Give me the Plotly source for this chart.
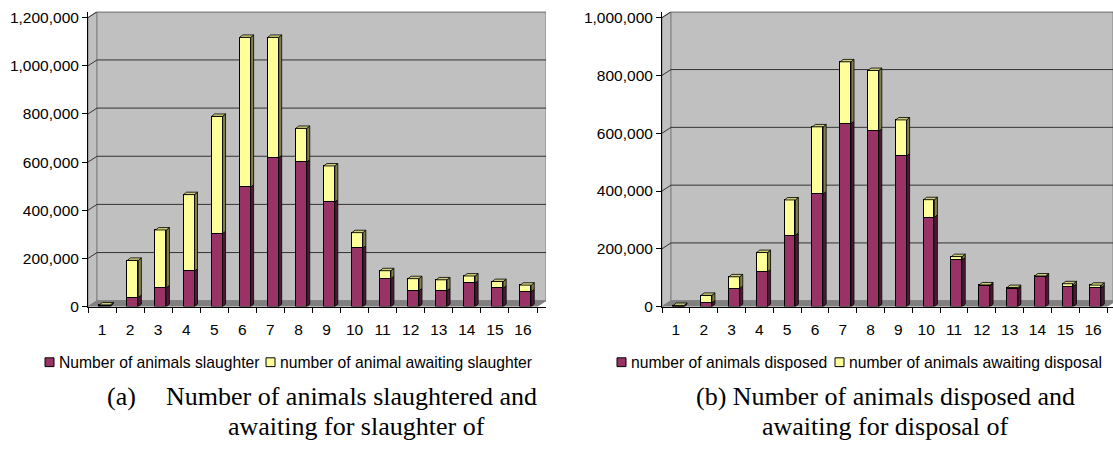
import plotly.graph_objects as go

# ---- data -------------------------------------------------------------
categories = list(range(1, 17))
tick_labels = [str(c) for c in categories]

slaughtered = [2000, 38000, 78000, 147000, 303000, 496000, 618000, 600000,
               434000, 243000, 116000, 66000, 66000, 97000, 76000, 62000]
awaiting_slaughter = [5000, 154000, 240000, 318000, 487000, 622000, 500000, 140000,
                      150000, 64000, 33000, 50000, 45000, 30000, 28000, 27000]

disposed = [1000, 13000, 63000, 120000, 246000, 390000, 633000, 607000,
            521000, 309000, 162000, 72000, 61000, 104000, 70000, 65000]
awaiting_disposal = [3000, 26000, 40000, 67000, 123000, 232000, 214000, 210000,
                     125000, 61000, 11000, 3000, 5000, 2000, 9000, 9000]

left_yticks = [0, 200000, 400000, 600000, 800000, 1000000, 1200000]
right_yticks = [0, 200000, 400000, 600000, 800000, 1000000]

left_series_names = ["Number of animals slaughter", "number of animal awaiting slaughter"]
right_series_names = ["number of animals disposed", "number of animals awaiting disposal"]

# ---- styling ----------------------------------------------------------
W, H = 1113, 461
PURPLE, PURPLE_SIDE = "#993366", "#4D1A33"
YELLOW, YELLOW_SIDE, YELLOW_TOP = "#FFFF99", "#80804D", "#CCCC7A"
WALL, FLOOR, EDGE, GRID = "#C0C0C0", "#808080", "#808080", "#333333"
SANS = "Liberation Sans, Arial, sans-serif"
SERIF = "Liberation Serif, Times New Roman, serif"
TICK_FONT = dict(family=SANS, size=15.5, color="black")

panels = [
    dict(xa="x", ya="y", front_x=(88, 537), zero_y=311, top_tick_y=15,
         yticks=left_yticks, lower=slaughtered, upper=awaiting_slaughter,
         names=left_series_names),
    dict(xa="x2", ya="y2", front_x=(662, 1107), zero_y=311, top_tick_y=15,
         yticks=right_yticks, lower=disposed, upper=awaiting_disposal,
         names=right_series_names),
]

WALL_DX_PX, WALL_DY_PX = 9, 6      # depth of the floor / side wall
BAR_DX_PX, BAR_DY_PX = 3, 2.5      # depth of each column
BAR_SHIFT, BAR_WIDTH = 0.1, 0.39   # column placement within a category

fig = go.Figure()
shapes = []
layout_axes = {}


def side_polys(xs, bottoms, tops, dx, dy, half):
    px, py = [], []
    for x, b, t in zip(xs, bottoms, tops):
        xr = x + half
        px += [xr, xr + dx, xr + dx, xr, xr, None]
        py += [b, b + dy, t + dy, t, b, None]
    return px, py


def top_polys(xs, tops, dx, dy, half):
    px, py = [], []
    for x, t in zip(xs, tops):
        xl, xr = x - half, x + half
        px += [xl, xr, xr + dx, xl + dx, xl, None]
        py += [t, t, t + dy, t + dy, t, None]
    return px, py


for p in panels:
    fx0, fx1 = p["front_x"]
    ymax = p["yticks"][-1]
    ppc = (fx1 - fx0) / len(categories)
    ppv = (p["zero_y"] - p["top_tick_y"]) / ymax
    wdx, wdy = WALL_DX_PX / ppc, WALL_DY_PX / ppv
    bdx, bdy = BAR_DX_PX / ppc, BAR_DY_PX / ppv
    xmax_px = min(fx1 + WALL_DX_PX, W)
    x_lo, x_hi = categories[0] - 0.5, categories[-1] + 0.5
    xmax = x_hi + (xmax_px - fx1) / ppc
    ytop = ymax + wdy
    top_px = p["zero_y"] - ytop * ppv

    xs = [c + BAR_SHIFT for c in categories]
    totals = [a + b for a, b in zip(p["lower"], p["upper"])]
    half = BAR_WIDTH / 2

    # front faces of the stacked columns
    fig.add_trace(go.Bar(x=xs, y=p["lower"], width=BAR_WIDTH, name=p["names"][0],
                         marker=dict(color=PURPLE, line=dict(color="black", width=1)),
                         xaxis=p["xa"], yaxis=p["ya"], showlegend=False))
    fig.add_trace(go.Bar(x=xs, y=p["upper"], width=BAR_WIDTH, name=p["names"][1],
                         marker=dict(color=YELLOW, line=dict(color="black", width=1)),
                         xaxis=p["xa"], yaxis=p["ya"], showlegend=False))
    # right-hand side faces
    sx, sy = side_polys(xs, [0] * len(xs), p["lower"], bdx, bdy, half)
    fig.add_trace(go.Scatter(x=sx, y=sy, mode="lines", fill="toself", fillcolor=PURPLE_SIDE,
                             line=dict(color="black", width=0.8), hoverinfo="skip",
                             xaxis=p["xa"], yaxis=p["ya"], showlegend=False))
    sx, sy = side_polys(xs, p["lower"], totals, bdx, bdy, half)
    fig.add_trace(go.Scatter(x=sx, y=sy, mode="lines", fill="toself", fillcolor=YELLOW_SIDE,
                             line=dict(color="black", width=0.8), hoverinfo="skip",
                             xaxis=p["xa"], yaxis=p["ya"], showlegend=False))
    # top faces
    tx, ty = top_polys(xs, totals, bdx, bdy, half)
    fig.add_trace(go.Scatter(x=tx, y=ty, mode="lines", fill="toself", fillcolor=YELLOW_TOP,
                             line=dict(color="black", width=0.8), hoverinfo="skip",
                             xaxis=p["xa"], yaxis=p["ya"], showlegend=False))

    # side wall, back wall, floor and gridlines
    ref = dict(xref=p["xa"], yref=p["ya"], layer="below")
    shapes.append(dict(type="path", **ref,
                       path=f"M {x_lo},0 L {x_lo + wdx},{wdy} L {x_lo + wdx},{ytop} L {x_lo},{ymax} Z",
                       fillcolor=WALL, line=dict(color=EDGE, width=1)))
    shapes.append(dict(type="rect", **ref, x0=x_lo + wdx, x1=xmax, y0=wdy, y1=ytop,
                       fillcolor=WALL, line=dict(color=EDGE, width=1)))
    shapes.append(dict(type="path", **ref,
                       path=f"M {x_lo},0 L {x_hi},0 L {x_hi + wdx},{wdy} L {x_lo + wdx},{wdy} Z",
                       fillcolor=FLOOR, line=dict(color=EDGE, width=1)))
    for v in p["yticks"][1:]:
        shapes.append(dict(type="line", **ref, x0=x_lo, y0=v, x1=x_lo + wdx, y1=v + wdy,
                           line=dict(color=GRID, width=1)))
        shapes.append(dict(type="line", **ref, x0=x_lo + wdx, y0=v + wdy, x1=xmax, y1=v + wdy,
                           line=dict(color=GRID, width=1)))

    xkey = "xaxis" if p["xa"] == "x" else "xaxis2"
    ykey = "yaxis" if p["ya"] == "y" else "yaxis2"
    layout_axes[xkey] = dict(
        domain=[fx0 / W, xmax_px / W], range=[x_lo, xmax], anchor=p["ya"],
        tickmode="array", tickvals=categories, ticktext=tick_labels,
        ticks="outside", ticklen=9, tickcolor="rgba(0,0,0,0)", tickfont=TICK_FONT,
        showgrid=False, zeroline=False, showline=True, linecolor="black", linewidth=1,
        minor=dict(tickmode="array", tickvals=[c - 0.5 for c in categories] + [x_hi],
                   ticks="outside", ticklen=5, tickcolor="black", showgrid=False),
        fixedrange=True)
    layout_axes[ykey] = dict(
        domain=[1 - p["zero_y"] / H, 1 - top_px / H], range=[0, ytop], anchor=p["xa"],
        tickmode="array", tickvals=p["yticks"], tickformat=",",
        ticks="outside", ticklen=5, tickcolor="black", tickfont=TICK_FONT,
        showgrid=False, zeroline=False, showline=True, linecolor="black", linewidth=1,
        fixedrange=True)

# ---- legends (swatch + label rows beneath each chart) ----------------
annotations = []
LEG_FONT = dict(family=SANS, size=15.7, color="black")
legend_rows = [
    (45, 368, left_series_names, 266),
    (617, 368, right_series_names, 835),
]
for sw_x, y_px, names, sw2_x in legend_rows:
    for sx0, color, label in [(sw_x, PURPLE, names[0]), (sw2_x, YELLOW, names[1])]:
        shapes.append(dict(type="rect", xref="paper", yref="paper",
                           x0=sx0 / W, x1=(sx0 + 9) / W,
                           y0=1 - (y_px + 4.5) / H, y1=1 - (y_px - 4.5) / H,
                           fillcolor=color, line=dict(color="black", width=1)))
        annotations.append(dict(text=label, xref="paper", yref="paper",
                                x=(sx0 + 12) / W, y=1 - y_px / H, xanchor="left",
                                yanchor="middle", showarrow=False, font=LEG_FONT))

# ---- captions --------------------------------------------------------
CAP_FONT = dict(family=SERIF, size=26, color="black")
captions = [
    ("(a)", 105, 403, "left"),
    ("Number of animals slaughtered and", 351, 403, "center"),
    ("awaiting for slaughter of", 356, 434, "center"),
    ("(b) Number of animals disposed and", 694, 403, "left"),
    ("awaiting for disposal of", 885, 434, "center"),
]
for text, x_px, y_px, anchor in captions:
    annotations.append(dict(text=text, xref="paper", yref="paper", x=x_px / W,
                            y=1 - y_px / H, xanchor=anchor, yanchor="middle",
                            showarrow=False, font=CAP_FONT))

fig.update_layout(
    width=W, height=H, margin=dict(l=0, r=0, t=0, b=0),
    paper_bgcolor="white", plot_bgcolor="white",
    barmode="stack", bargap=0, showlegend=False,
    shapes=shapes, annotations=annotations,
    **layout_axes,
)

fig.write_html("out.html")
